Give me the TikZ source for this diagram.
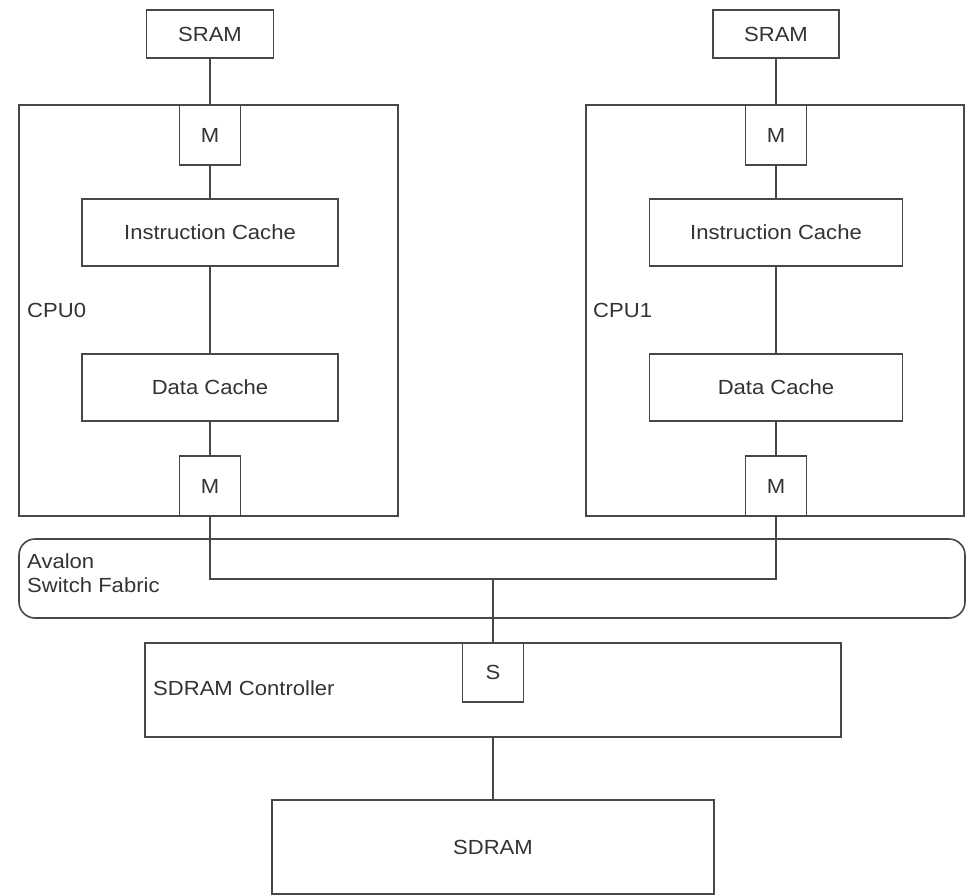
\documentclass[tikz,border=0pt]{standalone}
\usepackage{fontspec}
\setmainfont[FakeStretch=1.08]{Liberation Sans}
\definecolor{wire}{HTML}{474747}
\definecolor{ink}{HTML}{333333}
\tikzset{
  unitbox/.style={draw=wire, line width=1.6bp, fill=white, inner sep=0pt,
    text=ink, font=\fontsize{20.5}{25}\selectfont},
  frame/.style={draw=wire, line width=1.6bp, inner sep=0pt},
  wireline/.style={draw=wire, line width=1.6bp},
  caption/.style={text=ink, font=\fontsize{20.5}{25}\selectfont, inner sep=0pt}
}
\begin{document}
\begin{tikzpicture}[x=1bp, y=-1bp]
\useasboundingbox (0,0) rectangle (967,895);

% processor outlines
\node[frame, minimum width=379bp, minimum height=411bp] (cpu0) at (208.5,310.5) {};
\node[frame, minimum width=378bp, minimum height=411bp] (cpu1) at (775,310.5) {};
\node[caption, anchor=west] (cpu0lbl) at (27,310) {CPU0};
\node[caption, anchor=west] (cpu1lbl) at (593,310) {CPU1};

% interconnect
\draw[wireline, rounded corners=16bp] (19,539) rectangle (965,618);
\node[caption, anchor=north west, align=left] (fabric) at (27,553) {Avalon\\Switch Fabric};

% memory controller
\node[frame, minimum width=696bp, minimum height=94bp] (ctrl) at (493,690) {};
\node[caption, anchor=west] (ctrllbl) at (153,688) {SDRAM Controller};

% left column
\node[unitbox, minimum width=127bp, minimum height=48bp] (sram0) at (210,34) {SRAM};
\node[unitbox, minimum width=61bp, minimum height=60bp] (m0a) at (210,135) {M};
\node[unitbox, minimum width=256bp, minimum height=67bp] (ic0) at (210,232.5) {Instruction Cache};
\node[unitbox, minimum width=256bp, minimum height=67bp] (dc0) at (210,387.5) {Data Cache};
\node[unitbox, minimum width=61bp, minimum height=60bp] (m0b) at (210,486) {M};

% right column
\node[unitbox, minimum width=126bp, minimum height=48bp] (sram1) at (776,34) {SRAM};
\node[unitbox, minimum width=61bp, minimum height=60bp] (m1a) at (776,135) {M};
\node[unitbox, minimum width=253bp, minimum height=67bp] (ic1) at (776,232.5) {Instruction Cache};
\node[unitbox, minimum width=253bp, minimum height=67bp] (dc1) at (776,387.5) {Data Cache};
\node[unitbox, minimum width=61bp, minimum height=60bp] (m1b) at (776,486) {M};

% slave port and memory
\node[unitbox, minimum width=61bp, minimum height=59bp] (s) at (493,672.5) {S};
\node[unitbox, minimum width=442bp, minimum height=94bp] (sdram) at (493,847) {SDRAM};

\coordinate (busjoin) at (493,579);

% connections
\draw[wireline] (sram0) -- (m0a);
\draw[wireline] (m0a) -- (ic0);
\draw[wireline] (ic0) -- (dc0);
\draw[wireline] (dc0) -- (m0b);
\draw[wireline] (sram1) -- (m1a);
\draw[wireline] (m1a) -- (ic1);
\draw[wireline] (ic1) -- (dc1);
\draw[wireline] (dc1) -- (m1b);
\draw[wireline] (m0b.south) |- (busjoin) -| (m1b.south);
\draw[wireline] (busjoin) -- (s.north);
\draw[wireline] (ctrl.south) -- (sdram.north);
\end{tikzpicture}
\end{document}
